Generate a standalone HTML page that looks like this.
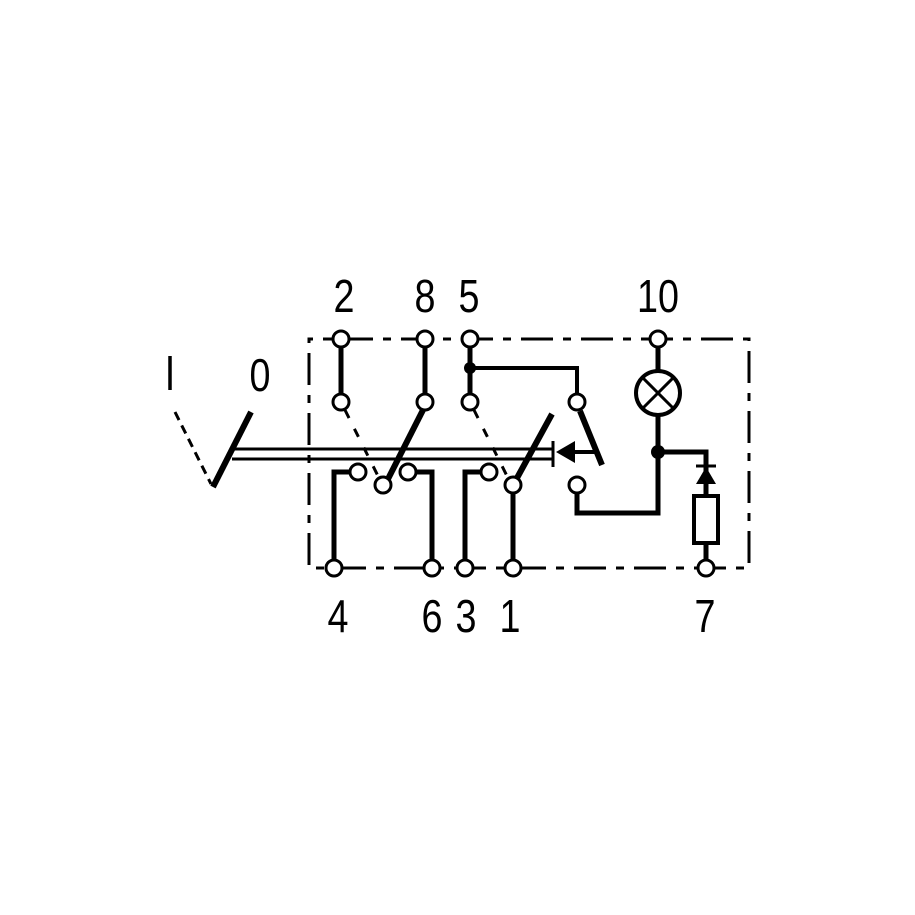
<!DOCTYPE html>
<html><head><style>html,body{margin:0;padding:0;background:#fff}svg{display:block}</style></head>
<body>
<svg width="915" height="915" viewBox="0 0 915 915" xmlns="http://www.w3.org/2000/svg">
<g fill="none" stroke="#000">
<!-- dashed box -->
<path d="M341 339 H749 V568 H309 V339 Z" stroke-width="3" stroke-dasharray="32 10 8 10"/>
<!-- rails -->
<line x1="232" y1="449" x2="553" y2="449" stroke-width="3"/>
<line x1="232" y1="459" x2="553" y2="459" stroke-width="3"/>
<line x1="553" y1="441" x2="553" y2="467" stroke-width="3"/>
<!-- lever -->
<line x1="213" y1="487" x2="251" y2="412" stroke-width="6"/>
<line x1="175" y1="412" x2="211" y2="484" stroke-width="3" stroke-dasharray="9 6"/>
<!-- column 2 -->
<line x1="341" y1="347" x2="341" y2="394" stroke-width="5"/>
<line x1="345" y1="410" x2="378" y2="476" stroke-width="3" stroke-dasharray="9 12"/>
<!-- column 8 -->
<line x1="425" y1="347" x2="425" y2="394" stroke-width="5"/>
<line x1="424" y1="408" x2="388" y2="479" stroke-width="6"/>
<!-- brackets 4 / 6 -->
<polyline points="350,472 334,472 334,560" stroke-width="5"/>
<polyline points="416,472 432,472 432,560" stroke-width="5"/>
<!-- column 5 -->
<line x1="470" y1="347" x2="470" y2="394" stroke-width="5"/>
<polyline points="470,368 577,368 577,394" stroke-width="4"/>
<line x1="474" y1="410" x2="507" y2="476" stroke-width="3" stroke-dasharray="9 12"/>
<polyline points="481,472 465,472 465,560" stroke-width="5"/>
<line x1="513" y1="493" x2="513" y2="560" stroke-width="5"/>
<line x1="552" y1="414" x2="517" y2="478" stroke-width="6"/>
<!-- right switch -->
<line x1="580" y1="411" x2="602" y2="465" stroke-width="6"/>
<line x1="575" y1="452" x2="596" y2="452" stroke-width="4"/>
<polyline points="577,493 577,513 658,513 658,415" stroke-width="5"/>
<!-- lamp -->
<line x1="658" y1="347" x2="658" y2="371" stroke-width="5"/>
<circle cx="658" cy="393" r="22" stroke-width="4"/>
<line x1="643" y1="378" x2="673" y2="408" stroke-width="3"/>
<line x1="673" y1="378" x2="643" y2="408" stroke-width="3"/>
<polyline points="658,452 706,452 706,496" stroke-width="5"/>
<line x1="696" y1="466" x2="716" y2="466" stroke-width="3"/>
<rect x="694" y="496" width="24" height="47" stroke-width="4"/>
<line x1="706" y1="543" x2="706" y2="560" stroke-width="5"/>
</g>
<!-- filled -->
<polygon points="556,452 575,441 575,463" fill="#000"/>
<polygon points="706,467 696,484 716,484" fill="#000"/>
<circle cx="470" cy="368" r="6" fill="#000"/>
<circle cx="658" cy="452" r="7" fill="#000"/>
<!-- terminals -->
<g fill="#fff" stroke="#000" stroke-width="3">
<circle cx="341" cy="339" r="8"/><circle cx="425" cy="339" r="8"/><circle cx="470" cy="339" r="8"/><circle cx="658" cy="339" r="8"/>
<circle cx="341" cy="402" r="8"/><circle cx="425" cy="402" r="8"/><circle cx="470" cy="402" r="8"/><circle cx="577" cy="402" r="8"/>
<circle cx="358" cy="472" r="8"/><circle cx="383" cy="485" r="8"/><circle cx="408" cy="472" r="8"/>
<circle cx="489" cy="472" r="8"/><circle cx="513" cy="485" r="8"/><circle cx="577" cy="485" r="8"/>
<circle cx="334" cy="568" r="8"/><circle cx="432" cy="568" r="8"/><circle cx="465" cy="568" r="8"/><circle cx="513" cy="568" r="8"/><circle cx="706" cy="568" r="8"/>
</g>
<g font-family="Liberation Sans, sans-serif" font-size="46" text-anchor="middle" fill="#000">
<text transform="translate(344,312) scale(0.82,1)">2</text>
<text transform="translate(425,312) scale(0.82,1)">8</text>
<text transform="translate(469,312) scale(0.82,1)">5</text>
<text transform="translate(658,312) scale(0.82,1)">10</text>
<text transform="translate(338,632) scale(0.82,1)">4</text>
<text transform="translate(432,632) scale(0.82,1)">6</text>
<text transform="translate(466,632) scale(0.82,1)">3</text>
<text transform="translate(510,632) scale(0.82,1)">1</text>
<text transform="translate(705,632) scale(0.82,1)">7</text>
<text transform="translate(260,391) scale(0.82,1)">0</text>
</g>
<line x1="170" y1="356" x2="170" y2="390" stroke="#000" stroke-width="3.5"/>
</svg>
</body></html>
